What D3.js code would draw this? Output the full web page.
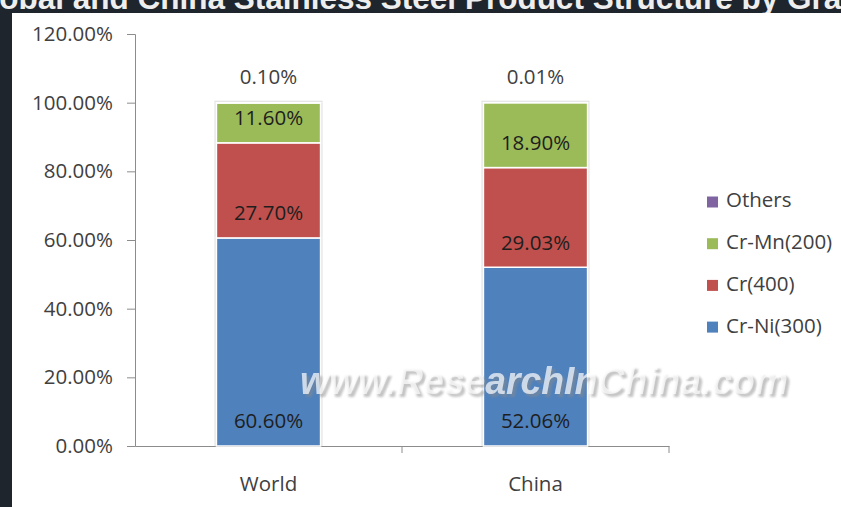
<!DOCTYPE html>
<html>
<head>
<meta charset="utf-8">
<script src="https://cdn.jsdelivr.net/npm/d3@7"></script>
<style>
  body { margin: 0; background: #1f252d; }
  svg { display: block; }
</style>
</head>
<body>
<svg id="chart"></svg>
<script>
// data
const regions = ["World", "China"];
const seriesNames = ["Cr-Ni(300)", "Cr(400)", "Cr-Mn(200)", "Others"];
const crNi = [60.60, 52.06];
const cr400 = [27.70, 29.03];
const crMn = [11.60, 18.90];
const others = [0.10, 0.01];
const yTicks = [0, 20, 40, 60, 80, 100, 120];

const colors = ["#4f81bd", "#c0504d", "#9bbb59", "#8064a2"];
const width = 841;
const height = 507;
const margin = { top: 34, right: 172, bottom: 61, left: 135 };
const font = "'Open Sans', sans-serif";
const fontSize = 20.5;

let svg = d3.select("#chart")
    .attr("width", width)
    .attr("height", height);

// dark page frame, title is cut off at the top
svg.append("rect")
    .attr("width", width).attr("height", height)
    .attr("fill", "#1f252d");
svg.append("rect")
    .attr("x", 12).attr("y", 13)
    .attr("width", width - 12).attr("height", height - 13)
    .attr("fill", "#ffffff");
svg.append("clipPath").attr("id", "topClip")
    .append("rect").attr("width", width).attr("height", 13);
svg.append("text")
    .attr("clip-path", "url(#topClip)")
    .attr("x", -34).attr("y", 9)
    .attr("font-family", "'Liberation Sans', Arial, sans-serif")
    .attr("font-weight", "bold")
    .attr("font-size", 31.5)
    .attr("fill", "#eeeeee")
    .text("Global and China Stainless Steel Product Structure by Grade");

const xScale = d3.scaleBand()
    .domain(regions)
    .range([margin.left, width - margin.right])
    .padding(0);

const yScale = d3.scaleLinear()
    .domain([0, 120])
    .range([height - margin.bottom, margin.top]);

// stack the series
const table = regions.map((r, i) => ({
    region: r,
    "Cr-Ni(300)": crNi[i],
    "Cr(400)": cr400[i],
    "Cr-Mn(200)": crMn[i],
    "Others": others[i]
}));
const stacked = d3.stack().keys(seriesNames)(table);

const barW = xScale.bandwidth() * 0.39;
const barX = d => xScale(d.data.region) + (xScale.bandwidth() - barW) / 2;

// axes
let yAxis = svg.append("g")
    .attr("transform", `translate(${margin.left},0)`)
    .call(d3.axisLeft(yScale).tickValues(yTicks).tickSize(8).tickPadding(14)
        .tickFormat(d => d.toFixed(2) + "%"));
yAxis.select(".domain").attr("stroke", "#8c8c8c");
yAxis.selectAll(".tick line").attr("stroke", "#8c8c8c");
yAxis.selectAll("text")
    .attr("font-family", font).attr("font-size", fontSize).attr("fill", "#404040");

let xAxis = svg.append("g")
    .attr("transform", `translate(0,${yScale(0)})`)
    .call(d3.axisBottom(xScale).tickSize(0).tickPadding(30));
xAxis.select(".domain").attr("stroke", "#8c8c8c");
xAxis.selectAll("text")
    .attr("font-family", font).attr("font-size", fontSize).attr("fill", "#404040");
// category separators on x axis
svg.append("g").selectAll("line")
    .data(regions)
    .enter()
    .append("line")
    .attr("x1", d => xScale(d) + xScale.bandwidth())
    .attr("x2", d => xScale(d) + xScale.bandwidth())
    .attr("y1", yScale(0))
    .attr("y2", yScale(0) + 7)
    .attr("stroke", "#8c8c8c");

// bar shadow outline
svg.append("g").selectAll("rect")
    .data(stacked[stacked.length - 1])
    .enter()
    .append("rect")
    .attr("x", d => barX(d) - 2)
    .attr("y", d => yScale(d[1]) - 2)
    .attr("width", barW + 4)
    .attr("height", d => yScale(0) - yScale(d[1]) + 2)
    .attr("fill", "#e4e4e4");

// bars
svg.append("g").selectAll("g")
    .data(stacked)
    .enter()
    .append("g")
    .attr("fill", (d, i) => colors[i])
    .selectAll("rect")
    .data(d => d)
    .enter()
    .append("rect")
    .attr("x", barX)
    .attr("y", d => yScale(d[1]))
    .attr("width", barW)
    .attr("height", d => yScale(d[0]) - yScale(d[1]))
    .attr("stroke", "#ffffff")
    .attr("stroke-width", 1.5);

// labels, placed inside base like excel
svg.append("g").selectAll("g")
    .data(stacked)
    .enter()
    .append("g")
    .selectAll("text")
    .data(d => d.map(v => Object.assign(v, { key: d.key })))
    .enter()
    .append("text")
    .attr("x", d => barX(d) + barW / 2)
    .attr("y", d => yScale(d[0]) - (d.key === "Others" ? 24 : 23))
    .attr("text-anchor", "middle")
    .attr("dominant-baseline", "middle")
    .attr("font-family", font)
    .attr("font-size", fontSize)
    .attr("fill", d => d.key === "Others" ? "#404040" : "#1e1e1e")
    .text(d => (d[1] - d[0]).toFixed(2) + "%");

// watermark
const wm = svg.append("g").attr("font-family", "'Liberation Sans', Arial, sans-serif")
    .attr("font-weight", "bold").attr("font-style", "italic").attr("font-size", 38);
svg.append("filter").attr("id", "blur")
    .append("feGaussianBlur").attr("stdDeviation", 1.3);
wm.append("text")
    .attr("x", 303).attr("y", 397)
    .attr("textLength", 488).attr("lengthAdjust", "spacingAndGlyphs")
    .attr("fill", "#8a8a8a").attr("opacity", 0.5)
    .attr("filter", "url(#blur)")
    .text("www.ResearchInChina.com");
wm.append("text")
    .attr("x", 300).attr("y", 394)
    .attr("textLength", 488).attr("lengthAdjust", "spacingAndGlyphs")
    .attr("fill", "#ffffff").attr("opacity", 0.7)
    .text("www.ResearchInChina.com");

// legend
const legendOrder = ["Others", "Cr-Mn(200)", "Cr(400)", "Cr-Ni(300)"];
let legend = svg.append("g").selectAll("g")
    .data(legendOrder)
    .enter()
    .append("g")
    .attr("transform", (d, i) => `translate(707,${202 + i * 41.7})`);
legend.append("rect")
    .attr("y", -5.5)
    .attr("width", 11).attr("height", 11)
    .attr("fill", d => colors[seriesNames.indexOf(d)]);
legend.append("text")
    .attr("x", 19)
    .attr("dominant-baseline", "middle")
    .attr("font-family", font)
    .attr("font-size", fontSize)
    .attr("fill", "#404040")
    .text(d => d);
</script>
</body>
</html>
